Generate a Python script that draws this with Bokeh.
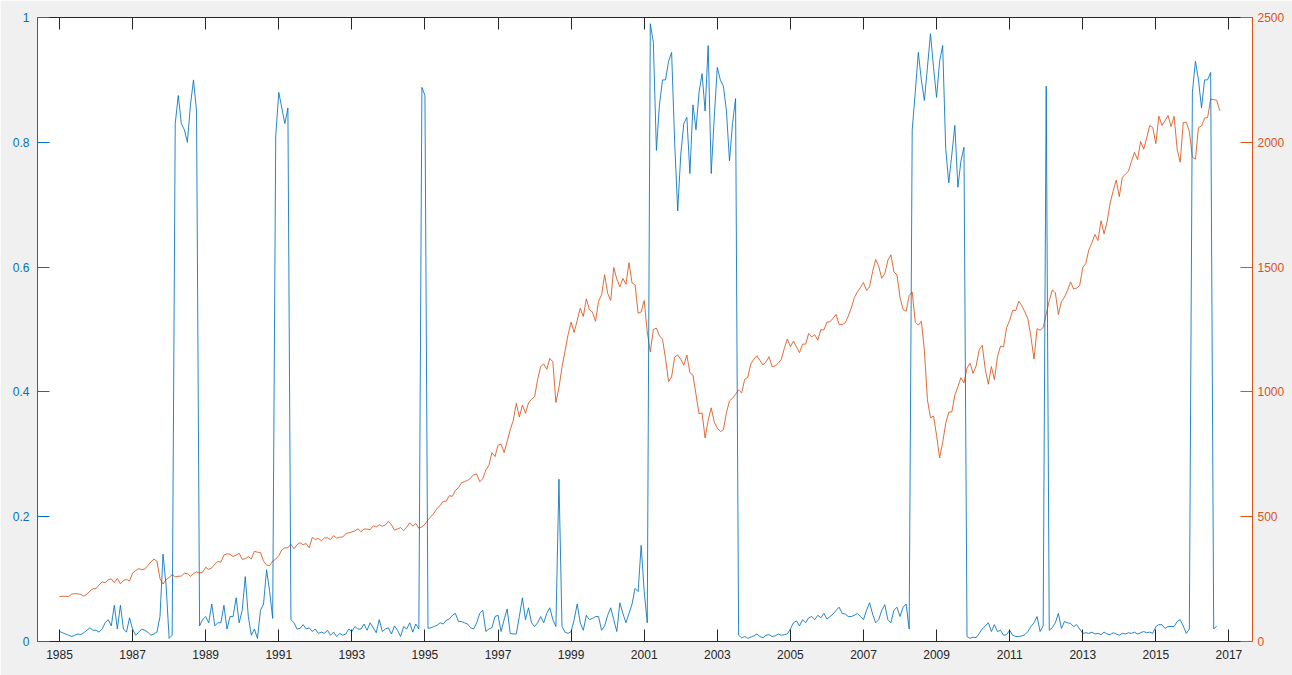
import numpy as np
from bokeh.plotting import figure
from bokeh.models import LinearAxis, Range1d, FixedTicker, NumeralTickFormatter
from bokeh.embed import file_html
from bokeh.resources import INLINE

# ---------------- data (monthly, starting January 1985) ----------------
start_year = 1985

regime_prob = [
    0.016, 0.014, 0.012, 0.010, 0.008, 0.010, 0.012, 0.011, 0.014, 0.018, 0.022, 0.018,
    0.018, 0.015, 0.020, 0.030, 0.035, 0.025, 0.058, 0.020, 0.058, 0.020, 0.015, 0.038,
    0.020, 0.010, 0.015, 0.020, 0.018, 0.015, 0.010, 0.012, 0.015, 0.040, 0.140, 0.090,
    0.005, 0.010, 0.830, 0.875, 0.830, 0.820, 0.800, 0.860, 0.900, 0.850, 0.025, 0.035,
    0.040, 0.030, 0.060, 0.025, 0.030, 0.030, 0.058, 0.020, 0.040, 0.040, 0.070, 0.030,
    0.050, 0.104, 0.040, 0.010, 0.020, 0.005, 0.050, 0.060, 0.115, 0.080, 0.037, 0.810,
    0.880, 0.855, 0.830, 0.855, 0.035, 0.030, 0.020, 0.021, 0.027, 0.020, 0.022, 0.016,
    0.020, 0.013, 0.015, 0.013, 0.018, 0.010, 0.015, 0.008, 0.013, 0.010, 0.012, 0.020,
    0.016, 0.024, 0.020, 0.020, 0.028, 0.018, 0.030, 0.022, 0.014, 0.035, 0.016, 0.020,
    0.022, 0.012, 0.025, 0.018, 0.008, 0.024, 0.020, 0.030, 0.015, 0.028, 0.020, 0.888,
    0.875, 0.021, 0.022, 0.024, 0.026, 0.030, 0.028, 0.034, 0.036, 0.042, 0.045, 0.032,
    0.032, 0.030, 0.028, 0.022, 0.020, 0.030, 0.045, 0.050, 0.016, 0.020, 0.022, 0.040,
    0.042, 0.016, 0.035, 0.052, 0.013, 0.012, 0.012, 0.040, 0.070, 0.035, 0.054, 0.030,
    0.024, 0.030, 0.040, 0.030, 0.045, 0.054, 0.035, 0.024, 0.260, 0.024, 0.015, 0.013,
    0.016, 0.035, 0.060, 0.030, 0.018, 0.042, 0.035, 0.037, 0.040, 0.040, 0.018, 0.025,
    0.042, 0.054, 0.035, 0.016, 0.062, 0.045, 0.030, 0.045, 0.060, 0.085, 0.080, 0.154,
    0.080, 0.030, 0.990, 0.960, 0.787, 0.860, 0.900, 0.900, 0.930, 0.944, 0.800, 0.690,
    0.780, 0.830, 0.840, 0.750, 0.860, 0.820, 0.880, 0.910, 0.850, 0.955, 0.750, 0.840,
    0.920, 0.900, 0.890, 0.850, 0.770, 0.830, 0.870, 0.010, 0.006, 0.008, 0.005, 0.007,
    0.009, 0.012, 0.008, 0.006, 0.010, 0.011, 0.008, 0.009, 0.012, 0.010, 0.011, 0.012,
    0.020, 0.030, 0.033, 0.025, 0.035, 0.030, 0.038, 0.040, 0.035, 0.042, 0.038, 0.045,
    0.036, 0.040, 0.044, 0.050, 0.055, 0.045, 0.044, 0.040, 0.040, 0.042, 0.045, 0.040,
    0.035, 0.050, 0.062, 0.044, 0.030, 0.035, 0.050, 0.059, 0.035, 0.030, 0.050, 0.055,
    0.040, 0.055, 0.060, 0.020, 0.820, 0.880, 0.944, 0.900, 0.867, 0.920, 0.974, 0.920,
    0.872, 0.930, 0.955, 0.790, 0.735, 0.780, 0.827, 0.728, 0.770, 0.792, 0.008, 0.005,
    0.007, 0.006, 0.013, 0.020, 0.025, 0.030, 0.016, 0.027, 0.016, 0.018, 0.010, 0.011,
    0.018, 0.010, 0.008, 0.008, 0.009, 0.011, 0.016, 0.024, 0.030, 0.040, 0.016, 0.025,
    0.890, 0.018, 0.022, 0.030, 0.045, 0.021, 0.032, 0.030, 0.029, 0.024, 0.027, 0.020,
    0.013, 0.014, 0.013, 0.015, 0.012, 0.013, 0.011, 0.015, 0.012, 0.011, 0.014, 0.012,
    0.010, 0.013, 0.012, 0.014, 0.013, 0.015, 0.012, 0.014, 0.016, 0.014, 0.015, 0.013,
    0.024, 0.027, 0.027, 0.021, 0.024, 0.024, 0.024, 0.032, 0.035, 0.025, 0.013, 0.020,
    0.880, 0.930, 0.900, 0.855, 0.900, 0.900, 0.912, 0.020, 0.025,
]

sp500 = [
    179.6, 181.2, 180.7, 179.8, 189.6, 191.9, 190.9, 188.6, 182.1, 189.8, 202.2, 211.3,
    211.8, 226.9, 238.9, 235.5, 247.4, 250.8, 236.1, 252.9, 231.3, 244.0, 249.2, 242.2,
    274.1, 284.2, 291.7, 288.4, 290.1, 304.0, 318.7, 329.8, 321.8, 251.8, 230.3, 247.1,
    257.1, 267.8, 258.9, 261.3, 262.2, 273.5, 272.0, 261.5, 271.9, 279.0, 273.7, 277.7,
    297.5, 288.9, 294.9, 309.6, 320.5, 318.0, 346.1, 351.5, 349.2, 340.4, 346.0, 353.4,
    329.1, 331.9, 339.9, 330.8, 361.2, 358.0, 356.2, 322.6, 306.1, 304.0, 322.2, 330.2,
    343.9, 367.1, 375.2, 375.3, 389.8, 371.2, 387.8, 395.4, 387.9, 392.5, 375.2, 417.1,
    408.8, 412.7, 403.7, 415.0, 415.4, 408.1, 424.2, 414.0, 417.8, 418.7, 431.4, 435.7,
    438.8, 443.4, 451.7, 440.2, 450.2, 450.5, 448.1, 463.6, 458.9, 467.8, 461.8, 466.5,
    481.6, 467.1, 445.8, 450.9, 456.5, 444.3, 458.3, 475.5, 462.7, 472.4, 453.7, 459.3,
    470.4, 487.4, 500.7, 514.7, 533.4, 544.8, 562.1, 561.9, 584.4, 581.5, 605.4, 615.9,
    636.0, 640.4, 645.5, 654.2, 669.1, 670.6, 640.0, 652.0, 687.3, 705.3, 757.0, 740.7,
    786.2, 790.8, 757.1, 801.3, 848.3, 885.1, 954.3, 899.5, 947.3, 914.6, 955.4, 970.4,
    980.3, 1049.3, 1101.8, 1111.8, 1090.8, 1133.8, 1120.7, 957.3, 1017.0, 1098.7, 1163.6, 1229.2,
    1279.6, 1238.3, 1286.4, 1335.2, 1301.8, 1372.7, 1328.7, 1320.4, 1282.7, 1362.9, 1388.9, 1469.3,
    1394.5, 1366.4, 1498.6, 1452.4, 1420.6, 1454.6, 1430.8, 1517.7, 1436.5, 1429.4, 1315.2, 1320.3,
    1366.0, 1239.9, 1160.3, 1249.5, 1255.8, 1224.4, 1211.2, 1133.6, 1040.9, 1059.8, 1139.5, 1148.1,
    1130.2, 1106.7, 1147.4, 1076.9, 1067.1, 989.8, 911.6, 916.1, 815.3, 885.8, 936.3, 879.8,
    855.7, 841.2, 848.2, 916.9, 963.6, 974.5, 990.3, 1008.0, 996.0, 1050.7, 1058.2, 1111.9,
    1131.1, 1144.9, 1126.2, 1107.3, 1120.7, 1140.8, 1101.7, 1104.2, 1114.6, 1130.2, 1173.8, 1211.9,
    1181.3, 1203.6, 1180.6, 1156.9, 1191.5, 1191.3, 1234.2, 1220.3, 1228.8, 1207.0, 1249.5, 1248.3,
    1280.1, 1280.7, 1294.9, 1310.6, 1270.1, 1270.2, 1276.7, 1303.8, 1335.9, 1377.9, 1400.6, 1418.3,
    1438.2, 1406.8, 1420.9, 1482.4, 1530.6, 1503.4, 1455.3, 1474.0, 1526.8, 1549.4, 1481.1, 1468.4,
    1378.6, 1330.6, 1322.7, 1385.6, 1400.4, 1280.0, 1267.4, 1282.8, 1166.4, 968.8, 896.2, 903.3,
    825.9, 735.1, 797.9, 872.8, 919.1, 919.3, 987.5, 1020.6, 1057.1, 1036.2, 1095.6, 1115.1,
    1073.9, 1104.5, 1169.4, 1186.7, 1089.4, 1030.7, 1101.6, 1049.3, 1141.2, 1183.3, 1180.6, 1257.6,
    1286.1, 1327.2, 1325.8, 1363.6, 1345.2, 1320.6, 1292.3, 1218.9, 1131.4, 1253.3, 1247.0, 1257.6,
    1312.4, 1365.7, 1408.5, 1397.9, 1310.3, 1362.2, 1379.3, 1406.6, 1440.7, 1412.2, 1416.2, 1426.2,
    1498.1, 1514.7, 1569.2, 1597.6, 1630.7, 1606.3, 1685.7, 1633.0, 1681.6, 1756.5, 1805.8, 1848.4,
    1782.6, 1859.5, 1872.3, 1884.0, 1923.6, 1960.2, 1930.7, 2003.4, 1972.3, 2018.1, 2067.6, 2058.9,
    1995.0, 2104.5, 2067.9, 2085.5, 2107.4, 2063.1, 2103.8, 1972.2, 1920.0, 2079.4, 2080.4, 2043.9,
    1940.2, 1932.2, 2059.7, 2065.3, 2097.0, 2098.9, 2173.6, 2171.0, 2168.3, 2126.2,
]

year_ticks = list(range(1985, 2018, 2))
left_ticks = [0, 0.2, 0.4, 0.6, 0.8, 1.0]
right_ticks = [0, 500, 1000, 1500, 2000, 2500]

t_prob = start_year + np.arange(len(regime_prob)) / 12.0
t_sp = start_year + np.arange(len(sp500)) / 12.0

# ---------------- styling ----------------
BLUE = "#0072BD"
ORANGE = "#D95319"
DARK = "#262626"
FONT = "Liberation Sans"
FS = "12px"

p = figure(width=1292, height=675, output_backend="svg", toolbar_location=None,
           x_range=Range1d(1984.398, 2017.645), y_range=Range1d(0, 1),
           x_axis_location=None, y_axis_location=None,
           min_border_left=37, min_border_right=40, min_border_top=17, min_border_bottom=34)
p.extra_y_ranges = {"right": Range1d(0, 2500)}
p.background_fill_color = "white"
p.border_fill_color = "#f0f0f0"
p.outline_line_color = None
p.xgrid.visible = False
p.ygrid.visible = False


def style_axis(ax, color, standoff):
    ax.axis_line_color = color
    ax.axis_line_width = 1
    ax.major_tick_line_color = color
    ax.major_tick_in = 12
    ax.major_tick_out = 0
    ax.minor_tick_line_color = None
    ax.major_label_text_color = color
    ax.major_label_text_font = FONT
    ax.major_label_text_font_size = FS
    ax.major_label_standoff = standoff


ax_b = LinearAxis(ticker=FixedTicker(ticks=year_ticks))
style_axis(ax_b, DARK, 8)
p.add_layout(ax_b, "below")

# top edge of the box: ticks only, no labels
ax_t = LinearAxis(ticker=FixedTicker(ticks=year_ticks))
style_axis(ax_t, DARK, 0)
ax_t.major_label_text_color = None
p.add_layout(ax_t, "above")

ax_l = LinearAxis(ticker=FixedTicker(ticks=left_ticks),
                  formatter=NumeralTickFormatter(format="0.[0]"))
style_axis(ax_l, BLUE, 8)
p.add_layout(ax_l, "left")

ax_r = LinearAxis(y_range_name="right", ticker=FixedTicker(ticks=right_ticks))
style_axis(ax_r, ORANGE, 5)
p.add_layout(ax_r, "right")

p.line(t_sp, sp500, y_range_name="right", line_color=ORANGE, line_width=1, line_alpha=0.85)
p.line(t_prob, regime_prob, line_color=BLUE, line_width=1, line_alpha=0.85)

open("out.html", "w").write(file_html(p, INLINE))
